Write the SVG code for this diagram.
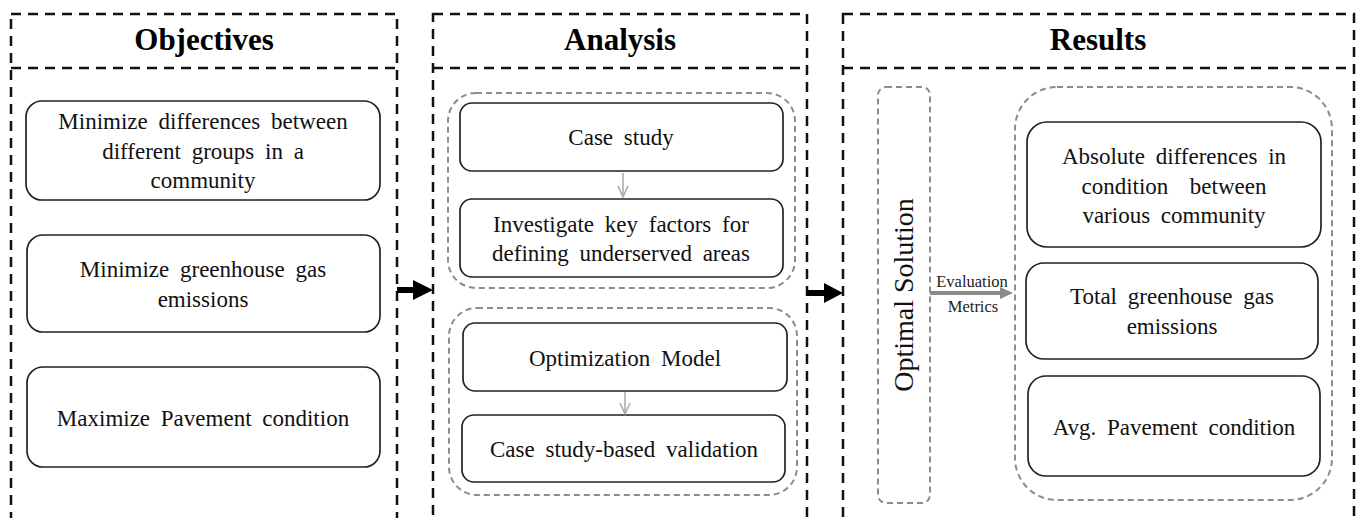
<svg xmlns="http://www.w3.org/2000/svg" width="1359" height="518" viewBox="0 0 1359 518">
  <style>
    .frame { fill: none; stroke: #111; stroke-width: 2.5; stroke-dasharray: 10 7; }
    .group { fill: none; stroke: #8c8c8c; stroke-width: 2; stroke-dasharray: 6 4; }
    .box { fill: #fff; stroke: #222; stroke-width: 1.7; }
    .head { font-family: "Liberation Serif", "Times New Roman", serif; font-weight: bold; font-size: 31px; fill: #000; text-anchor: middle; }
    .lbl { font-family: "Liberation Serif", "Times New Roman", serif; font-size: 23px; fill: #111; text-anchor: middle; word-spacing: 5px; }
    .vert { font-family: "Liberation Serif", "Times New Roman", serif; font-size: 28px; fill: #111; text-anchor: middle; }
    .small { font-family: "Liberation Serif", "Times New Roman", serif; font-size: 16.5px; fill: #222; text-anchor: middle; }
    .thin { fill: none; stroke: #a8a8a8; stroke-width: 1.5; }
  </style>
  <defs>
    <marker id="vhead" markerUnits="userSpaceOnUse" markerWidth="14" markerHeight="12" refX="12" refY="6" orient="auto">
      <path d="M1,1 L12,6 L1,11" fill="none" stroke="#a8a8a8" stroke-width="1.5"/>
    </marker>
  </defs>

  <rect width="1359" height="518" fill="#fff"/>

  <!-- Objectives column -->
  <g id="col-objectives">
    <rect class="frame" x="11" y="14" width="386" height="505.5"/>
    <line class="frame" x1="11" y1="68" x2="397" y2="68"/>
    <text class="head" x="204" y="50">Objectives</text>
  </g>
  <g id="obj-differences">
    <rect class="box" x="26" y="101" width="354" height="99" rx="16"/>
    <text class="lbl" x="203" y="129">Minimize differences between</text>
    <text class="lbl" x="203" y="159">different groups in a</text>
    <text class="lbl" x="203" y="188">community</text>
  </g>
  <g id="obj-emissions">
    <rect class="box" x="27" y="235" width="353" height="97" rx="16"/>
    <text class="lbl" x="203" y="277">Minimize greenhouse gas</text>
    <text class="lbl" x="203" y="307">emissions</text>
  </g>
  <g id="obj-pavement">
    <rect class="box" x="27" y="367" width="353" height="100" rx="16"/>
    <text class="lbl" x="203" y="426">Maximize Pavement condition</text>
  </g>

  <!-- Analysis column -->
  <g id="col-analysis">
    <rect class="frame" x="433" y="14" width="374" height="505.5"/>
    <line class="frame" x1="433" y1="68" x2="807" y2="68"/>
    <text class="head" x="620" y="50">Analysis</text>
  </g>
  <g id="grp-case">
    <rect class="group" x="448" y="93" width="347" height="195" rx="28"/>
  </g>
  <g id="ana-case-study">
    <rect class="box" x="460" y="103" width="323" height="68" rx="12"/>
    <text class="lbl" x="621" y="145">Case study</text>
  </g>
  <g id="ana-key-factors">
    <rect class="box" x="460" y="199" width="323" height="78" rx="12"/>
    <text class="lbl" x="621" y="232">Investigate key factors for</text>
    <text class="lbl" x="621" y="261">defining underserved areas</text>
  </g>
  <g id="grp-model">
    <rect class="group" x="449" y="308" width="348" height="187" rx="28"/>
  </g>
  <g id="ana-optimization">
    <rect class="box" x="463" y="323" width="324" height="68" rx="12"/>
    <text class="lbl" x="625" y="366">Optimization Model</text>
  </g>
  <g id="ana-validation">
    <rect class="box" x="462" y="415" width="323" height="67" rx="12"/>
    <text class="lbl" x="624" y="457">Case study-based validation</text>
  </g>

  <!-- Results column -->
  <g id="col-results">
    <rect class="frame" x="843" y="14" width="511" height="505.5"/>
    <line class="frame" x1="843" y1="68" x2="1354" y2="68"/>
    <text class="head" x="1098" y="50">Results</text>
  </g>
  <g id="res-optimal">
    <rect class="group" x="878" y="87" width="52" height="416" rx="8"/>
    <text class="vert" x="913" y="295" transform="rotate(-90 913 295)">Optimal Solution</text>
  </g>
  <g id="grp-metrics">
    <rect class="group" x="1015" y="87" width="317" height="413" rx="42"/>
  </g>
  <g id="res-abs-diff">
    <rect class="box" x="1027" y="122" width="294" height="125" rx="20"/>
    <text class="lbl" x="1174" y="164">Absolute differences in</text>
    <text class="lbl" x="1174" y="194" xml:space="preserve">condition  between</text>
    <text class="lbl" x="1174" y="223">various community</text>
  </g>
  <g id="res-ghg">
    <rect class="box" x="1026" y="263" width="292" height="96" rx="18"/>
    <text class="lbl" x="1172" y="304">Total greenhouse gas</text>
    <text class="lbl" x="1172" y="334">emissions</text>
  </g>
  <g id="res-pavement">
    <rect class="box" x="1028" y="376" width="292" height="100" rx="18"/>
    <text class="lbl" x="1174" y="435">Avg. Pavement condition</text>
  </g>

  <!-- Connectors -->
  <g id="connectors">
    <path d="M397,287 L413,287 L413,280 L433,290 L413,300 L413,293 L397,293 Z" fill="#000"/>
    <path d="M807,290 L824,290 L824,283 L843,293 L824,303 L824,296 L807,296 Z" fill="#000"/>
    <line class="thin" x1="623" y1="173" x2="623" y2="197" marker-end="url(#vhead)"/>
    <line class="thin" x1="625" y1="392" x2="625" y2="414" marker-end="url(#vhead)"/>
    <path d="M930,291 L1000,291 L1000,287 L1013,293 L1000,299 L1000,295 L930,295 Z" fill="#8a8a8a"/>
    <text class="small" x="972" y="287">Evaluation</text>
    <text class="small" x="973" y="312">Metrics</text>
  </g>
</svg>
